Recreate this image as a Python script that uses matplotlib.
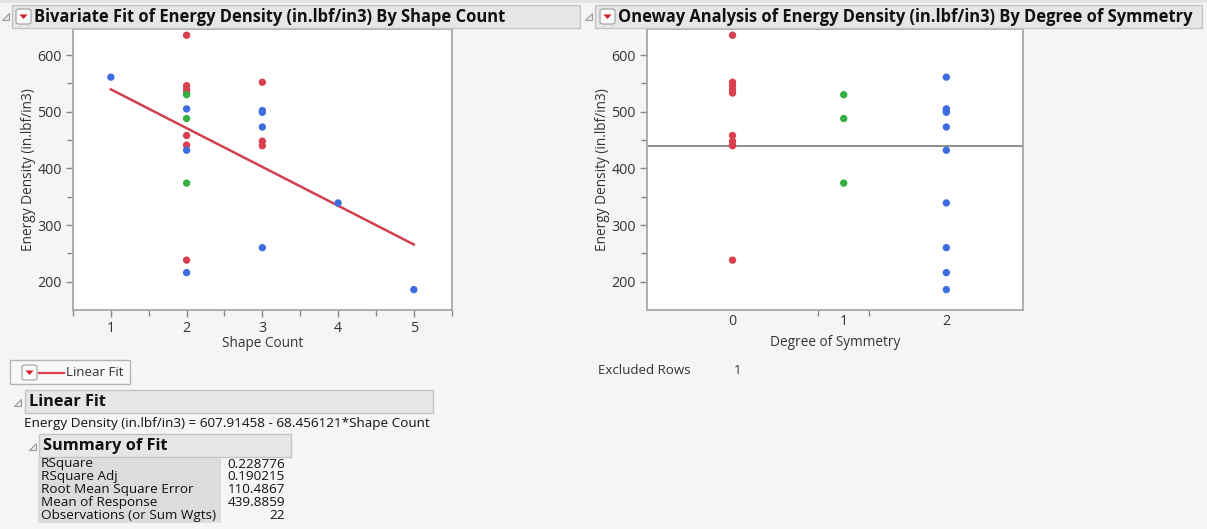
import matplotlib
matplotlib.use("Agg")
import matplotlib.pyplot as plt
from matplotlib.patches import Rectangle, FancyBboxPatch, Polygon
import numpy as np

# ---------------- data ----------------
shape_count = [1, 2, 2, 2, 2, 2, 2, 2, 2, 2, 2, 2, 2, 2,
               3, 3, 3, 3, 3, 3, 3, 4, 5]
energy = [561, 635, 546, 539, 533, 530, 505, 488, 458, 441, 432, 374, 238, 216,
          552, 502, 499, 473, 448, 440, 260, 339, 186]
symmetry = [2, 0, 0, 0, 0, 1, 2, 1, 0, 0, 2, 1, 0, 2,
            0, 2, 2, 2, 0, 0, 2, 2, 2]
sym_levels = [0, 1, 2]
sym_fit_counts = [10, 3, 9]          # non-excluded rows per level
sym_colors = {0: "#D9404F", 1: "#33B041", 2: "#3C6CE0"}
intercept = 607.91458
slope = -68.456121
mean_response = 439.8859
summary_labels = ["RSquare", "RSquare Adj", "Root Mean Square Error",
                  "Mean of Response", "Observations (or Sum Wgts)"]
summary_values = ["0.228776", "0.190215", "110.4867", "439.8859", "22"]
x_ticks_left = [1, 2, 3, 4, 5]
y_ticks = [200, 300, 400, 500, 600]
excluded_rows = 1

# ---------------- layout helpers ----------------
W, H = 1207, 529
BG = "#F5F5F5"
FONT = "Open Sans"
plt.rcParams["font.family"] = [FONT, "DejaVu Sans"]

fig = plt.figure(figsize=(W / 100, H / 100), dpi=100, facecolor=BG)


def fx(px):
    return px / W


def fy(py):
    return 1 - py / H


def rect(x0, y0, x1, y1, fc, ec, lw=1.0):
    fig.patches.append(Rectangle((fx(x0), fy(y1)), fx(x1) - fx(x0), fy(y0) - fy(y1),
                                 transform=fig.transFigure, facecolor=fc,
                                 edgecolor=ec, linewidth=lw))


def disclosure(xc, yc):
    s = 3.5
    fig.patches.append(Polygon([(fx(xc + s), fy(yc - s)), (fx(xc + s), fy(yc + s)),
                                (fx(xc - s), fy(yc + s))], closed=True,
                               transform=fig.transFigure, facecolor="#E8E8E8",
                               edgecolor="#9A9A9A", linewidth=0.8))


def red_menu(x0, y0):
    fig.patches.append(FancyBboxPatch((fx(x0), fy(y0 + 15)), fx(15), 15 / H,
                                      boxstyle="round,pad=0,rounding_size=0.003",
                                      transform=fig.transFigure, facecolor="#FAFAFA",
                                      edgecolor="#A0A0A0", linewidth=0.8))
    fig.patches.append(Polygon([(fx(x0 + 3.5), fy(y0 + 5.5)), (fx(x0 + 11.5), fy(y0 + 5.5)),
                                (fx(x0 + 7.5), fy(y0 + 10))], closed=True,
                               transform=fig.transFigure, facecolor="#D0202A",
                               edgecolor="none"))


# top strip
rect(0, 0, W, 3, "#E4E4E4", "none")

# title bars
rect(12, 5, 580, 28, "#E6E6E6", "#C4C4C4")
rect(595, 5, 1202, 28, "#E6E6E6", "#C4C4C4")
disclosure(5, 16)
disclosure(588, 16)
red_menu(16, 9)
red_menu(600, 9)
fig.text(fx(34), fy(17), "Bivariate Fit of Energy Density (in.lbf/in3) By Shape Count",
         fontsize=11.9, fontweight="bold", va="center", ha="left", color="#111111")
fig.text(fx(618), fy(17), "Oneway Analysis of Energy Density (in.lbf/in3) By Degree of Symmetry",
         fontsize=11.9, fontweight="bold", va="center", ha="left", color="#111111")

SPINE = "#A8A8A8"
TXT = "#333333"


def style_axes(ax):
    ax.set_facecolor("white")
    for s in ax.spines.values():
        s.set_color(SPINE)
        s.set_linewidth(1.3)
    ax.tick_params(which="major", direction="out", length=5, width=1, color="#888888",
                   labelsize=10.3, labelcolor=TXT, pad=3)
    ax.tick_params(which="minor", direction="out", length=4, width=1, color="#888888")
    ax.set_ylim(150, 646)
    ax.set_yticks(y_ticks)
    ax.set_yticks([250, 350, 450, 550], minor=True)
    ax.set_ylabel("Energy Density (in.lbf/in3)", fontsize=9.8, color=TXT, labelpad=1)


# ---------------- left: bivariate ----------------
axL = fig.add_axes([fx(73), fy(310), fx(451.7) - fx(73), fy(29) - fy(310)])
style_axes(axL)
axL.set_xlim(0.5, 5.5)
axL.set_xticks(x_ticks_left)
axL.set_xticks([0.5, 1.5, 2.5, 3.5, 4.5, 5.5], minor=True)
axL.set_xlabel("Shape Count", fontsize=9.8, color=TXT, labelpad=0)
colsL = [sym_colors[s] for s in symmetry]
axL.scatter(shape_count, energy, s=28, c=colsL, edgecolors="none", zorder=3)
xf = np.array([min(shape_count), max(shape_count)])
axL.plot(xf, intercept + slope * xf, color="#D0404E", lw=1.8, zorder=2)

# ---------------- right: oneway ----------------
axR = fig.add_axes([fx(647), fy(310), fx(1023.3) - fx(647), fy(29) - fy(310)])
style_axes(axR)
bounds = np.concatenate([[0], np.cumsum(sym_fit_counts)])
centers = (bounds[:-1] + bounds[1:]) / 2
axR.set_xlim(bounds[0], bounds[-1])
axR.set_xticks(centers)
axR.set_xticklabels([str(l) for l in sym_levels])
axR.set_xticks(bounds[1:-1], minor=True)
axR.tick_params(axis="x", which="major", length=0, pad=3)
axR.set_xlabel("Degree of Symmetry", fontsize=9.8, color=TXT, labelpad=4)
xR = [centers[sym_levels.index(s)] for s in symmetry]
axR.scatter(xR, energy, s=28, c=colsL, edgecolors="none", zorder=3)
axR.axhline(mean_response, color="#7A7A7A", lw=1.2, zorder=2)

fig.text(fx(598), fy(370), "Excluded Rows", fontsize=9.6, color=TXT, va="center")
fig.text(fx(734), fy(370), str(excluded_rows), fontsize=9.6, color=TXT, va="center")

# ---------------- bottom-left: reports ----------------
rect(10, 360, 130, 384, "#F8F8F8", "#B4B4B4")
red_menu(22, 365)
fig.lines.append(plt.Line2D([fx(39), fx(64)], [fy(373), fy(373)], transform=fig.transFigure,
                            color="#D0404E", lw=1.6))
fig.text(fx(66), fy(373), "Linear Fit", fontsize=9.6, color=TXT, va="center")

disclosure(17, 402)
rect(25, 390, 433, 413, "#E6E6E6", "#C4C4C4")
fig.text(fx(29), fy(402), "Linear Fit", fontsize=11.7, fontweight="bold", color="#111111",
         va="center")
fig.text(fx(24), fy(423),
         f"Energy Density (in.lbf/in3) = {intercept:.5f} - {abs(slope):.6f}*Shape Count",
         fontsize=9.7, color="#111111", va="center")

disclosure(32, 446)
rect(39, 434, 291, 457, "#E6E6E6", "#C4C4C4")
fig.text(fx(43), fy(446), "Summary of Fit", fontsize=11.8, fontweight="bold",
         color="#111111", va="center")

rect(38, 458, 221, 523, "#DCDCDC", "none")
for i, (lab, val) in enumerate(zip(summary_labels, summary_values)):
    yy = 464 + i * 12.9
    fig.text(fx(41), fy(yy), lab, fontsize=9.7, color="#111111", va="center")
    fig.text(fx(285), fy(yy), val, fontsize=9.7, color="#111111", va="center", ha="right")

fig.savefig("out.png", dpi=100, facecolor=BG)
